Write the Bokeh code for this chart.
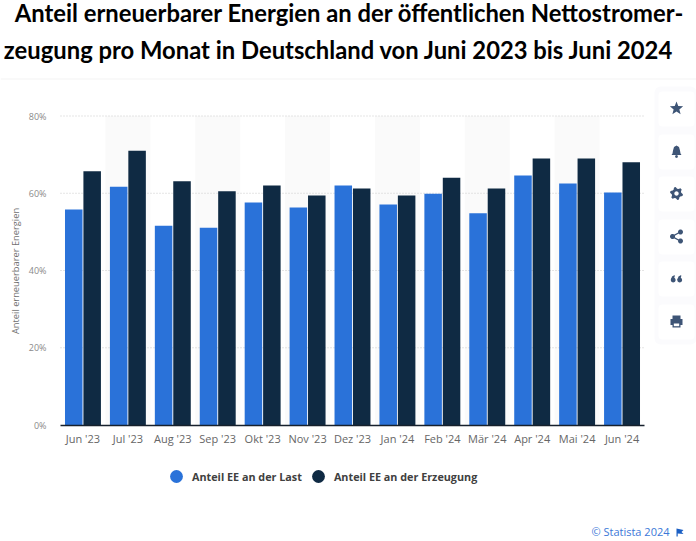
from bokeh.plotting import figure
from bokeh.models import (ColumnDataSource, Range1d, Label, BoxAnnotation, PolyAnnotation,
                          Legend, LegendItem, FixedTicker)
from bokeh.embed import file_html
from bokeh.resources import INLINE
import math

months = ["Jun '23", "Jul '23", "Aug '23", "Sep '23", "Okt '23", "Nov '23", "Dez '23",
          "Jan '24", "Feb '24", "Mär '24", "Apr '24", "Mai '24", "Jun '24"]
last = [55.8, 61.7, 51.6, 51.1, 57.6, 56.3, 62.0, 57.1, 59.9, 54.8, 64.6, 62.5, 60.2]
erzeugung = [65.7, 71.0, 63.1, 60.5, 62.0, 59.4, 61.2, 59.4, 64.0, 61.2, 69.0, 69.0, 68.0]
y_ticks = [0, 20, 40, 60, 80]
title_lines = ["Anteil erneuerbarer Energien an der öffentlichen Nettostromer-",
               "zeugung pro Monat in Deutschland von Juni 2023 bis Juni 2024"]
y_title = "Anteil erneuerbarer Energien"
series_names = ["Anteil EE an der Last", "Anteil EE an der Erzeugung"]
credit = "© Statista 2024"

BLUE, DARK = "#2a72d9", "#0f2a43"
W, H = 696, 541
FIG_X, FIG_Y = 0, 0          # where the figure sits in the picture
LEFT_PX, RIGHT_PX = 60, 644  # plot area in the picture
ZERO_PX, TOP_PX = 424.5, 115.5

idx = list(range(len(months)))
step = (RIGHT_PX - LEFT_PX) / len(months)
ppu = (ZERO_PX - TOP_PX) / 80
x_start = -0.5 - (LEFT_PX - FIG_X) / step
x_end = len(months) - 0.5 + (FIG_X + W - RIGHT_PX) / step
y_start = -(FIG_Y + H - ZERO_PX) / ppu
y_end = 80 + (TOP_PX - FIG_Y) / ppu

p = figure(width=W, height=H, output_backend="svg", toolbar_location=None,
           x_range=Range1d(x_start, x_end), y_range=Range1d(y_start, y_end),
           min_border=0, outline_line_color=None, background_fill_color="white", border_fill_color="white")
p.xgrid.visible = False
p.ygrid.visible = False

p.xaxis.fixed_location = 0
p.xaxis.bounds = (-0.5, len(months) - 0.5)
p.xaxis.ticker = FixedTicker(ticks=idx)
p.xaxis.major_label_overrides = dict(zip(idx, months))
p.xaxis.major_tick_line_color = None
p.xaxis.minor_tick_line_color = None
p.xaxis.axis_line_color = "#16202c"
p.xaxis.axis_line_width = 1.5
p.xaxis.major_label_text_font = "Open Sans"
p.xaxis.major_label_text_font_size = "11px"
p.xaxis.major_label_text_color = "#666666"
p.xaxis.major_label_standoff = 0

p.yaxis.fixed_location = -0.5
p.yaxis.ticker = FixedTicker(ticks=y_ticks)
p.yaxis.major_label_overrides = {t: f"{t}%" for t in y_ticks}
p.yaxis.major_tick_line_color = None
p.yaxis.minor_tick_line_color = None
p.yaxis.axis_line_color = None
p.yaxis.major_label_text_font = "Open Sans"
p.yaxis.major_label_text_font_size = "9px"
p.yaxis.major_label_text_color = "#8a8a8a"
p.yaxis.major_label_standoff = 8
p.yaxis.axis_label = y_title
p.yaxis.axis_label_text_font = "Open Sans"
p.yaxis.axis_label_text_font_style = "normal"
p.yaxis.axis_label_text_font_size = "9.3px"
p.yaxis.axis_label_text_color = "#6f6f6f"
p.yaxis.axis_label_standoff = 4

src = ColumnDataSource(dict(i=idx, last=last, erzeugung=erzeugung,
                            i_last=[i - 0.205 for i in idx], i_erz=[i + 0.205 for i in idx]))
p.vbar(x=idx[1::2], top=80, bottom=0, width=1.0, fill_color="#fafafa", line_color=None, level="underlay")
p.segment(x0=-0.5, x1=len(months) - 0.5, y0=y_ticks[1:], y1=y_ticks[1:], line_color="#c9c9c9",
          line_dash="1 2", line_width=1, level="underlay")
p.vbar(x="i_last", top="last", width=0.39, source=src, fill_color=BLUE, line_color=None)
p.vbar(x="i_erz", top="erzeugung", width=0.39, source=src, fill_color=DARK, line_color=None)

nan = float("nan")
r1 = p.scatter(x=[nan], y=[nan], marker="circle", size=13, fill_color=BLUE, line_color=None)
r2 = p.scatter(x=[nan], y=[nan], marker="circle", size=13, fill_color=DARK, line_color=None)
legend = Legend(items=[LegendItem(label=series_names[0], renderers=[r1]),
                       LegendItem(label=series_names[1], renderers=[r2])],
                orientation="horizontal", location=(160, FIG_Y + H - 492), background_fill_alpha=0,
                border_line_color=None, glyph_width=32, glyph_height=32, label_text_font="Open Sans",
                label_text_font_style="bold", label_text_font_size="10.8px", label_text_color="#404040",
                spacing=0, label_standoff=0, padding=0, margin=0)
p.add_layout(legend, "center")

def fx(px): return px - FIG_X
def fy(px): return FIG_Y + H - px

def box(x0, y0, x1, y1, color, radius=0):
    p.add_layout(BoxAnnotation(left=fx(x0), right=fx(x1), top=fy(y0), bottom=fy(y1),
                               left_units="screen", right_units="screen", top_units="screen", bottom_units="screen",
                               fill_color=color, fill_alpha=1, line_color=None, border_radius=radius, editable=False))

def poly(pts, color="#3e5576"):
    p.add_layout(PolyAnnotation(xs=[fx(a) for a, _ in pts], ys=[fy(b) for _, b in pts],
                                xs_units="screen", ys_units="screen",
                                fill_color=color, fill_alpha=1, line_color=None))

def disc(cx, cy, r, color="#3e5576", n=20):
    poly([(cx + r * math.cos(2 * math.pi * i / n), cy + r * math.sin(2 * math.pi * i / n)) for i in range(n)], color)

def text(x, y, s, size, color, style="normal", font="Open Sans", align="left"):
    p.add_layout(Label(x=fx(x), y=fy(y), x_units="screen", y_units="screen", text=s, text_font=font,
                       text_font_size=size, text_font_style=style, text_color=color,
                       text_align=align, text_baseline="middle"))

text(349, 12, title_lines[0], "23.8px", "#000000", "bold", "Lato", "center")
text(338.5, 49, title_lines[1], "23.8px", "#000000", "bold", "Lato", "center")
box(0, 78, 696, 79, "#f3f3f3")

card_tops = [91, 134, 176, 219, 261, 304]
box(654, 86, 696, 344, "#fbfbfd", 6)
for t in card_tops:
    box(658, t, 694, t + 35, "#ffffff", 4)
cx = 676
c = card_tops[0] + 17
poly([(cx + (7 if i % 2 == 0 else 3) * math.sin(math.pi * i / 5),
       c - (7 if i % 2 == 0 else 3) * math.cos(math.pi * i / 5)) for i in range(10)])
c = card_tops[1] + 17
poly([(cx, c - 6), (cx + 2.5, c - 4.5), (cx + 3.5, c - 1), (cx + 4, c + 2), (cx + 5, c + 3.5), (cx - 5, c + 3.5),
      (cx - 4, c + 2), (cx - 3.5, c - 1), (cx - 2.5, c - 4.5)])
disc(cx, c + 5, 1.4)
c = card_tops[2] + 17
poly([(cx + (6.5 if i % 4 < 2 else 4.8) * math.cos(2 * math.pi * (i + 0.5) / 24),
       c + (6.5 if i % 4 < 2 else 4.8) * math.sin(2 * math.pi * (i + 0.5) / 24)) for i in range(24)])
disc(cx, c, 2.2, "#ffffff")
c = card_tops[3] + 17
poly([(cx - 4.5, c - 0.7), (cx + 3.5, c - 5), (cx + 4, c - 4), (cx - 3, c), (cx + 4, c + 4), (cx + 3.5, c + 5), (cx - 4.5, c + 0.7)])
disc(cx - 4, c, 2.5); disc(cx + 4, c - 4.5, 2.5); disc(cx + 4, c + 4.5, 2.5)
c = card_tops[4] + 17
for d in (-5, 1.5):
    disc(cx + d + 1.7, c + 1.5, 2.4)
    poly([(cx + d - 0.7, c + 1.5), (cx + d + 0.5, c - 2), (cx + d + 3.2, c - 3.5), (cx + d + 3.2, c - 2), (cx + d + 2, c + 1.5)])
c = card_tops[5] + 17
poly([(cx - 4, c - 6), (cx + 4, c - 6), (cx + 4, c - 2), (cx - 4, c - 2)])
poly([(cx - 6, c - 2.5), (cx + 6, c - 2.5), (cx + 6, c + 3.5), (cx - 6, c + 3.5)])
poly([(cx - 4, c + 0.5), (cx + 4, c + 0.5), (cx + 4, c + 6), (cx - 4, c + 6)])
poly([(cx - 2.7, c + 2), (cx + 2.7, c + 2), (cx + 2.7, c + 4.7), (cx - 2.7, c + 4.7)], "#ffffff")

text(669, 531, credit, "11px", "#3b78d8", "normal", "Open Sans", "right")
poly([(676, 528), (683, 529.5), (681, 531.5), (683, 533.5), (677.2, 533), (677.2, 536), (676, 536)], "#1a5fc4")

open("out.html", "w").write(file_html(p, INLINE))
